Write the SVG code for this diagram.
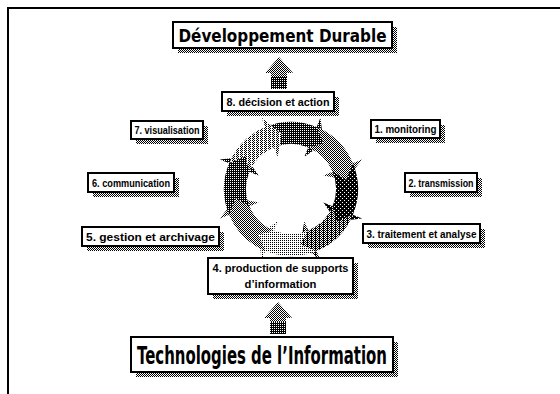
<svg xmlns="http://www.w3.org/2000/svg" width="560" height="394" viewBox="0 0 560 394">
  <defs>
    <!-- dither fills -->
    <pattern id="d25" width="2" height="2" patternUnits="userSpaceOnUse">
      <rect width="2" height="2" fill="#fff"/><rect width="1" height="1" fill="#000"/>
    </pattern>
    <pattern id="d40" width="4" height="2" patternUnits="userSpaceOnUse">
      <rect width="4" height="2" fill="#fff"/><rect width="1" height="1" fill="#000"/><rect x="2" width="1" height="1" fill="#000"/><rect x="1" y="1" width="1" height="1" fill="#000"/>
    </pattern>
    <pattern id="d50" width="2" height="2" patternUnits="userSpaceOnUse">
      <rect width="2" height="2" fill="#fff"/><rect width="1" height="1" fill="#000"/><rect x="1" y="1" width="1" height="1" fill="#000"/>
    </pattern>
    <pattern id="d65" width="4" height="2" patternUnits="userSpaceOnUse">
      <rect width="4" height="2" fill="#000"/><rect x="1" width="1" height="1" fill="#fff"/><rect x="2" y="1" width="1" height="1" fill="#fff"/><rect x="0" y="1" width="1" height="1" fill="#fff"/>
    </pattern>
    <pattern id="d75" width="2" height="2" patternUnits="userSpaceOnUse">
      <rect width="2" height="2" fill="#000"/><rect width="1" height="1" fill="#fff"/>
    </pattern>
    <pattern id="d90" width="4" height="4" patternUnits="userSpaceOnUse">
      <rect width="4" height="4" fill="#000"/><rect width="1" height="1" fill="#fff"/><rect x="2" y="2" width="1" height="1" fill="#fff"/>
    </pattern>
    <style>
      .box { fill: #fff; stroke: #000; stroke-width: 2; }
      .shadow { fill: url(#d50); }
      .lbl { font-family: "Liberation Sans", Arial, sans-serif; font-weight: bold; font-size: 11px; fill: #000; text-anchor: middle; }
      .big { font-family: "DejaVu Sans", "Liberation Sans", sans-serif; font-weight: bold; fill: #000; text-anchor: middle; }
      .frame { stroke: #000; stroke-width: 2; fill: none; }
    </style>
  </defs>

  <rect width="560" height="394" fill="#fff"/>

  <!-- page frame -->
  <path class="frame" d="M7 8 H560 M8 8 V394"/>

  <!-- cycle ring: eight curved arrows, clockwise -->
  <g id="cycle">
    <path fill="url(#d75)" d="M265.36,127.10 A67,67 0 0 1 316.64,127.10 L320.47,117.86 L323.52,143.41 L304.39,156.66 L308.22,147.43 A45,45 0 0 0 273.78,147.43 L281.76,133.77 Z"/>
    <path fill="url(#d50)" d="M316.64,127.10 A67,67 0 0 1 352.90,163.36 L362.14,159.53 L346.23,179.76 L323.34,175.61 L332.57,171.78 A45,45 0 0 0 308.22,147.43 L323.52,143.41 Z"/>
    <path fill="url(#d90)" d="M352.90,163.36 A67,67 0 0 1 352.90,214.64 L362.14,218.47 L336.59,221.52 L323.34,202.39 L332.57,206.22 A45,45 0 0 0 332.57,171.78 L346.23,179.76 Z"/>
    <path fill="url(#d65)" d="M352.90,214.64 A67,67 0 0 1 316.64,250.90 L320.47,260.14 L300.24,244.23 L304.39,221.34 L308.22,230.57 A45,45 0 0 0 332.57,206.22 L336.59,221.52 Z"/>
    <path fill="url(#d25)" d="M316.64,250.90 A67,67 0 0 1 265.36,250.90 L261.53,260.14 L258.48,234.59 L277.61,221.34 L273.78,230.57 A45,45 0 0 0 308.22,230.57 L300.24,244.23 Z"/>
    <path fill="url(#d50)" d="M265.36,250.90 A67,67 0 0 1 229.10,214.64 L219.86,218.47 L235.77,198.24 L258.66,202.39 L249.43,206.22 A45,45 0 0 0 273.78,230.57 L258.48,234.59 Z"/>
    <path fill="url(#d75)" d="M229.10,214.64 A67,67 0 0 1 229.10,163.36 L219.86,159.53 L245.41,156.48 L258.66,175.61 L249.43,171.78 A45,45 0 0 0 249.43,206.22 L235.77,198.24 Z"/>
    <path fill="url(#d40)" d="M229.10,163.36 A67,67 0 0 1 265.36,127.10 L261.53,117.86 L281.76,133.77 L277.61,156.66 L273.78,147.43 A45,45 0 0 0 249.43,171.78 L245.41,156.48 Z"/>
  </g>

  <!-- block arrows -->
  <g id="connectors">
    <g id="arrow-up-top">
      <polygon fill="url(#d50)" points="279,57 265,73 271,73 271,89 287,89 287,73 293,73"/>
      <rect x="271" y="77" width="16" height="12" fill="url(#d75)"/>
    </g>
    <g id="arrow-up-bottom">
      <polygon fill="url(#d50)" points="278,302 264,318 270,318 270,334 286,334 286,318 292,318"/>
      <rect x="270" y="322" width="16" height="12" fill="url(#d75)"/>
    </g>
  </g>

  <g id="dev-durable">
    <rect class="shadow" x="178" y="27" width="219" height="26"/>
    <rect class="box" x="173" y="22" width="219" height="26"/>
    <text class="big" x="282.5" y="42" font-size="18" textLength="208" lengthAdjust="spacingAndGlyphs">Développement Durable</text>
  </g>

  <g id="step8">
    <rect class="shadow" x="227" y="97" width="112" height="19"/>
    <rect class="box" x="222" y="92" width="112" height="19"/>
    <text class="lbl" x="278" y="105.5" textLength="103" lengthAdjust="spacingAndGlyphs">8. décision et action</text>
  </g>

  <g id="step1">
    <rect class="shadow" x="376" y="125" width="69" height="18"/>
    <rect class="box" x="371" y="120" width="69" height="18"/>
    <text class="lbl" x="405.5" y="133" textLength="62" lengthAdjust="spacingAndGlyphs">1. monitoring</text>
  </g>

  <g id="step7">
    <rect class="shadow" x="136" y="126" width="72" height="18"/>
    <rect class="box" x="131" y="121" width="72" height="18"/>
    <text class="lbl" x="167" y="134" textLength="65" lengthAdjust="spacingAndGlyphs">7. visualisation</text>
  </g>

  <g id="step2">
    <rect class="shadow" x="410" y="178" width="72" height="19"/>
    <rect class="box" x="405" y="173" width="72" height="19"/>
    <text class="lbl" x="441" y="186.5" textLength="65" lengthAdjust="spacingAndGlyphs">2. transmission</text>
  </g>

  <g id="step6">
    <rect class="shadow" x="93" y="178" width="86" height="19"/>
    <rect class="box" x="88" y="173" width="86" height="19"/>
    <text class="lbl" x="131" y="186.5" textLength="78" lengthAdjust="spacingAndGlyphs">6. communication</text>
  </g>

  <g id="step3">
    <rect class="shadow" x="368" y="229" width="117" height="19"/>
    <rect class="box" x="363" y="224" width="117" height="19"/>
    <text class="lbl" x="421.5" y="237.5" textLength="110" lengthAdjust="spacingAndGlyphs">3. traitement et analyse</text>
  </g>

  <g id="step5">
    <rect class="shadow" x="87" y="232" width="137" height="19"/>
    <rect class="box" x="82" y="227" width="137" height="19"/>
    <text class="lbl" x="150.5" y="240.5" textLength="129" lengthAdjust="spacingAndGlyphs">5. gestion et archivage</text>
  </g>

  <g id="step4">
    <rect class="shadow" x="213" y="263" width="145" height="36"/>
    <rect class="box" x="208" y="258" width="145" height="36"/>
    <text class="lbl" x="280.5" y="272" textLength="136" lengthAdjust="spacingAndGlyphs">4. production de supports</text>
    <text class="lbl" x="280.5" y="287.5" textLength="72" lengthAdjust="spacingAndGlyphs">d’information</text>
  </g>

  <g id="tech-info">
    <rect class="shadow" x="136" y="342" width="262" height="35"/>
    <rect class="box" x="131" y="337" width="262" height="35"/>
    <text class="big" x="262" y="363.5" font-size="24" textLength="250" lengthAdjust="spacingAndGlyphs">Technologies de l’Information</text>
  </g>
</svg>
